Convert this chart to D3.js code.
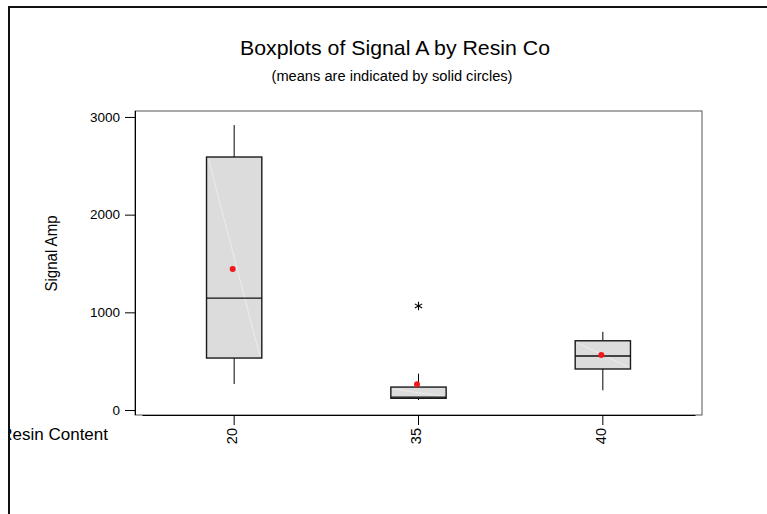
<!DOCTYPE html>
<html>
<head>
<meta charset="utf-8">
<script src="https://cdn.jsdelivr.net/npm/d3@7"></script>
<style>
  html, body { margin: 0; padding: 0; background: #fff; }
  svg { display: block; font-family: "Liberation Sans", Arial, sans-serif; }
</style>
</head>
<body>
<svg id="chart" width="767" height="514"></svg>
<script>
// Resin content groups and the five-number summaries of Signal A
const categories   = ["20", "35", "40"];
const whiskerLow   = [266, 102, 202];
const q1           = [532, 120, 420];
const median       = [1146, 133, 553];
const q3           = [2590, 235, 709];
const whiskerHigh  = [2917, 372, 801];
const means        = [1443, 263, 563];
const outlierGroup = ["35"];
const outlierValue = [1065];
const yTicks       = [0, 1000, 2000, 3000];

const FONT = "Liberation Sans, Arial, sans-serif";
const svg = d3.select("#chart");

// page area clip: everything left of the frame edge is hidden
svg.append("defs").append("clipPath").attr("id", "page")
  .append("rect").attr("x", 10).attr("y", 8).attr("width", 800).attr("height", 560);

// outer page frame
svg.append("rect")
  .attr("x", 9).attr("y", 7).attr("width", 800).attr("height", 560)
  .attr("fill", "none").attr("stroke", "#111").attr("stroke-width", 2);

const plot = { left: 135, right: 702, top: 111, bottom: 415 };

const x = d3.scaleBand().domain(categories).range([142, 695]).padding(0);
const y = d3.scaleLinear().domain([-51, 3061]).range([plot.bottom, plot.top]);

// plot frame
svg.append("rect")
  .attr("x", plot.left).attr("y", plot.top)
  .attr("width", plot.right - plot.left).attr("height", plot.bottom - plot.top)
  .attr("fill", "none").attr("stroke", "#555").attr("stroke-width", 1);

// y axis
const yAxis = svg.append("g").attr("transform", `translate(${plot.left},0)`)
  .call(d3.axisLeft(y).tickValues(yTicks).tickSize(10).tickPadding(5).tickFormat(d3.format("d")));
yAxis.select(".domain").attr("d", `M0.5,${plot.top}V${plot.bottom}`).attr("stroke", "#000");
yAxis.selectAll(".tick line").attr("stroke", "#000");
yAxis.selectAll(".tick text").attr("font-size", 13.5).attr("fill", "#000").attr("font-family", FONT);

// x axis with vertical labels
const xAxis = svg.append("g").attr("transform", `translate(0,${plot.bottom})`)
  .call(d3.axisBottom(x).tickSize(10).tickSizeOuter(0));
xAxis.select(".domain").attr("stroke", "#000");
xAxis.selectAll(".tick line").attr("stroke", "#000");
xAxis.selectAll(".tick text")
  .attr("font-size", 14.5).attr("fill", "#000").attr("font-family", FONT)
  .attr("transform", "rotate(-90)")
  .attr("text-anchor", "end")
  .attr("dy", "0.2em")
  .attr("x", -13).attr("y", 0);

// boxes
const boxW = x.bandwidth() * 0.3;
const rows = categories.map((c, i) => ({
  c, lo: whiskerLow[i], q1: q1[i], med: median[i], q3: q3[i], hi: whiskerHigh[i], mean: means[i]
}));

const g = svg.append("g");
rows.forEach(d => {
  const cx = x(d.c) + x.bandwidth() / 2;
  const bx = cx - boxW / 2;
  // whiskers
  g.append("line").attr("x1", cx).attr("x2", cx).attr("y1", y(d.q3)).attr("y2", y(d.hi))
    .attr("stroke", "#000").attr("stroke-width", 1);
  g.append("line").attr("x1", cx).attr("x2", cx).attr("y1", y(d.q1)).attr("y2", y(d.lo))
    .attr("stroke", "#000").attr("stroke-width", 1);
  // box body
  g.append("rect").attr("x", bx).attr("y", y(d.q3))
    .attr("width", boxW).attr("height", y(d.q1) - y(d.q3))
    .attr("fill", "#dcdcdc").attr("stroke", "none");
  // faint diagonal seam across the fill
  g.append("line").attr("x1", bx + 2).attr("y1", y(d.q3) + 2)
    .attr("x2", bx + boxW - 2).attr("y2", y(d.q1) - 2)
    .attr("stroke", "#ececec").attr("stroke-width", 1);
  g.append("rect").attr("x", bx).attr("y", y(d.q3))
    .attr("width", boxW).attr("height", y(d.q1) - y(d.q3))
    .attr("fill", "none").attr("stroke", "#1a1a1a").attr("stroke-width", 1.4);
  // median
  g.append("line").attr("x1", bx).attr("x2", bx + boxW).attr("y1", y(d.med)).attr("y2", y(d.med))
    .attr("stroke", "#111").attr("stroke-width", 1.3);
  // mean
  g.append("circle").attr("cx", cx - 1.5).attr("cy", y(d.mean)).attr("r", 3)
    .attr("fill", "#f01818");
});

// outliers
const star = d3.symbol().type(d3.symbolAsterisk).size(50);
outlierGroup.forEach((c, i) => {
  g.append("path")
    .attr("d", star())
    .attr("transform", `translate(${x(c) + x.bandwidth() / 2},${y(outlierValue[i])})`)
    .attr("fill", "none").attr("stroke", "#000").attr("stroke-width", 1.1);
});

// titles
svg.append("text").attr("x", 395).attr("y", 55).attr("text-anchor", "middle")
  .attr("font-size", 21).attr("fill", "#000")
  .attr("textLength", 310).attr("lengthAdjust", "spacingAndGlyphs")
  .text("Boxplots of Signal A by Resin Co");
svg.append("text").attr("x", 392).attr("y", 81).attr("text-anchor", "middle")
  .attr("font-size", 14).attr("fill", "#000")
  .attr("textLength", 241).attr("lengthAdjust", "spacingAndGlyphs")
  .text("(means are indicated by solid circles)");

// axis titles
svg.append("text").attr("transform", "translate(57,253.5) rotate(-90)").attr("text-anchor", "middle")
  .attr("font-size", 16).attr("fill", "#000")
  .attr("textLength", 76).attr("lengthAdjust", "spacingAndGlyphs")
  .text("Signal Amp");
svg.append("g").attr("clip-path", "url(#page)")
  .append("text").attr("x", 108).attr("y", 440).attr("text-anchor", "end")
  .attr("font-size", 17).attr("fill", "#000").text("Resin Content");

// frame left edge drawn over the axis title
svg.append("line").attr("x1", 9).attr("x2", 9).attr("y1", 6).attr("y2", 514)
  .attr("stroke", "#111").attr("stroke-width", 2);
</script>
</body>
</html>
